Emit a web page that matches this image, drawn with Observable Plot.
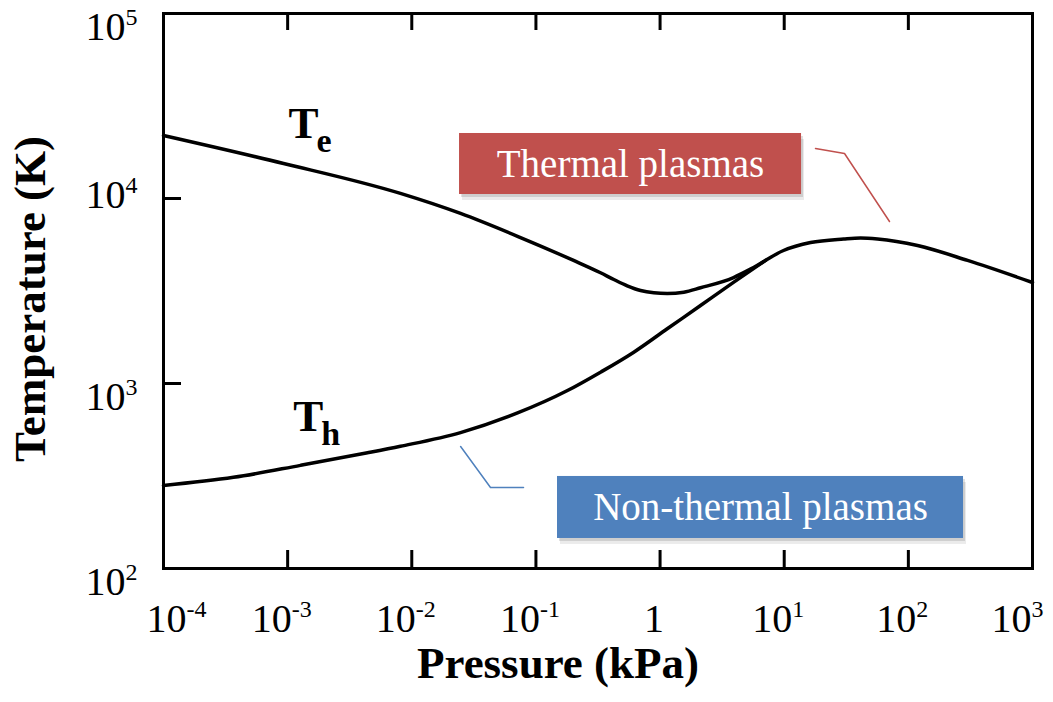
<!DOCTYPE html>
<html><head><meta charset="utf-8">
<script src="https://cdn.jsdelivr.net/npm/d3@7"></script>
<script src="https://cdn.jsdelivr.net/npm/@observablehq/plot@0.6"></script>
<style>body{margin:0;background:#fff;}</style>
</head><body><div id="chart"></div>
<script>
// Electron temperature Te (K) vs pressure (kPa)
const teP = [1e-4, 9.27e-4, 8.1e-3, 0.0247, 0.0751, 0.201, 0.3313, 0.424, 0.5437, 0.696, 0.8903, 1.142, 1.553, 2.118, 3.91, 5.66, 9.87, 16.3, 30.1, 41.18, 56.5, 118.6, 300, 1000];
const teT = [21900, 15460, 10650, 8300, 6150, 4625, 3967, 3650, 3375, 3182, 3093, 3066, 3115, 3291, 3740, 4235, 5235, 5780, 6041, 6116, 6041, 5570, 4625, 3515];
// Heavy-particle temperature Th (K) vs pressure (kPa), merging with Te
const thP = [1e-4, 3.66e-4, 1.27e-3, 4.4e-3, 8.1e-3, 0.0247, 0.0711, 0.1795, 0.3313, 0.6144, 1.142, 2.118, 3.927, 7.07];
const thT = [281, 311, 361, 422, 458, 543, 693, 916, 1151, 1477, 1976, 2640, 3529, 4625];

// Axis ticks ("^" marks a superscript exponent)
const xTickValues = [1e-4, 1e-3, 1e-2, 1e-1, 1, 1e1, 1e2, 1e3];
const xTickLabels = ["10^-4", "10^-3", "10^-2", "10^-1", "1", "10^1", "10^2", "10^3"];
const yTickValues = [1e2, 1e3, 1e4, 1e5];
const yTickLabels = ["10^2", "10^3", "10^4", "10^5"];
const xInnerTicks = [1e-3, 1e-2, 1e-1, 1, 1e1, 1e2];
const yInnerTicks = [1e3, 1e4];

// Annotation boxes (data coordinates)
const boxLabels = ["Thermal plasmas", "Non-thermal plasmas"];
const boxColors = ["#C0504D", "#4F81BD"];
const boxP1 = [0.02424, 0.1492];
const boxP2 = [13.79, 278.2];
const boxT1 = [10510, 145.3];
const boxT2 = [22460, 314.4];
const boxTextP = [0.5779, 6.445];
const boxTextT = [15270, 213.6];

// Leader lines
const redLeaderP = [17.87, 30.6, 70.5];
const redLeaderT = [18630, 17510, 7510];
const blueLeaderP = [0.02474, 0.04306, 0.07943];
const blueLeaderT = [456.5, 274.1, 274.1];

// Curve labels
const curveLabelMain = ["T", "T"];
const curveLabelSub = ["e", "h"];
const curveLabelP = [1.016e-3, 1.11e-3];
const curveLabelT = [25400, 664];

const te = teP.map((p, i) => ({p, t: teT[i]}));
const th = thP.map((p, i) => ({p, t: thT[i]}));
const boxes = boxLabels.map((label, i) => ({label, fill: boxColors[i], p1: boxP1[i], p2: boxP2[i], t1: boxT1[i], t2: boxT2[i], tp: boxTextP[i], tt: boxTextT[i]}));
const redLeader = redLeaderP.map((p, i) => ({p, t: redLeaderT[i]}));
const blueLeader = blueLeaderP.map((p, i) => ({p, t: blueLeaderT[i]}));
const curveLabels = curveLabelMain.map((m, i) => ({m, s: curveLabelSub[i], p: curveLabelP[i], t: curveLabelT[i]}));

const xFmt = d => xTickLabels[xTickValues.indexOf(d)];
const yFmt = d => yTickLabels[yTickValues.indexOf(d)];

const W = 1053, H = 702, mL = 163, mR = 21, mT = 13, mB = 134;
const plotW = W - mL - mR, plotH = H - mT - mB;
const font = "'Liberation Serif', 'DejaVu Serif', serif";

const chart = Plot.plot({
  width: W, height: H,
  marginLeft: mL, marginRight: mR, marginTop: mT, marginBottom: mB,
  style: {fontFamily: font, background: "white", color: "black"},
  x: {type: "log", domain: [1e-4, 1e3], axis: null},
  y: {type: "log", domain: [1e2, 1e5], axis: null},
  marks: [
    // inner tick marks
    Plot.tickX(xInnerTicks, {x: d => d, insetTop: plotH - 18, stroke: "black", strokeWidth: 3}),
    Plot.tickX(xInnerTicks, {x: d => d, insetBottom: plotH - 17, stroke: "black", strokeWidth: 3}),
    Plot.tickY(yInnerTicks, {y: d => d, insetRight: plotW - 18, stroke: "black", strokeWidth: 3}),
    Plot.frame({stroke: "black", strokeWidth: 3}),
    // tick labels
    Plot.axisX([1e-4], {anchor: "bottom", tickSize: 0, tickPadding: 35, tickFormat: xFmt, fontSize: 40, dx: 13, label: null}),
    Plot.axisX(xTickValues.slice(1, 7), {anchor: "bottom", tickSize: 0, tickPadding: 35, tickFormat: xFmt, fontSize: 40, dx: -6, label: null}),
    Plot.axisX([1e3], {anchor: "bottom", tickSize: 0, tickPadding: 35, tickFormat: xFmt, fontSize: 40, dx: -15, label: null}),
    Plot.axisY([1e2, 1e3, 1e5], {anchor: "left", tickSize: 0, tickPadding: 26, tickFormat: yFmt, fontSize: 40, dy: 14, label: null}),
    Plot.axisY([1e4], {anchor: "left", tickSize: 0, tickPadding: 26, tickFormat: yFmt, fontSize: 40, dy: -3, label: null}),
    // axis titles
    Plot.text(["Pressure (kPa)"], {frameAnchor: "bottom", text: d => d, dx: -40, dy: 109, fontSize: 45, fontWeight: "bold", fill: "black"}),
    Plot.text(["Temperature (K)"], {frameAnchor: "left", text: d => d, textAnchor: "middle", rotate: -90, dx: -133, dy: 8, fontSize: 45, fontWeight: "bold", fill: "black"}),
    // curves
    Plot.line(te, {x: "p", y: "t", stroke: "black", strokeWidth: 3.5, curve: "monotone-x"}),
    Plot.line(th, {x: "p", y: "t", stroke: "black", strokeWidth: 3.5, curve: "monotone-x"}),
    // curve labels
    Plot.text(curveLabels, {x: "p", y: "t", text: "m", textAnchor: "start", fontSize: 45, fontWeight: "bold", fill: "black"}),
    Plot.text(curveLabels, {x: "p", y: "t", text: "s", textAnchor: "start", fontSize: 34, fontWeight: "bold", fill: "black", dx: 28, dy: 18}),
    // leader lines
    Plot.line(redLeader, {x: "p", y: "t", stroke: "#C0504D", strokeWidth: 1.5}),
    Plot.line(blueLeader, {x: "p", y: "t", stroke: "#4F81BD", strokeWidth: 1.5}),
    // box shadows
    Plot.rect(boxes, {x1: "p1", x2: "p2", y1: "t1", y2: "t2", fill: "#000", fillOpacity: 0.08, dx: 3, dy: 6}),
    Plot.rect(boxes, {x1: "p1", x2: "p2", y1: "t1", y2: "t2", fill: "#000", fillOpacity: 0.12, dx: 2, dy: 3}),
    // boxes
    Plot.rect(boxes, {x1: "p1", x2: "p2", y1: "t1", y2: "t2", fill: "fill"}),
    Plot.text(boxes, {x: "tp", y: "tt", text: "label", fill: "white", fontSize: 39})
  ]
});

// Turn "10^e" tick labels into a base with a superscript tspan
chart.querySelectorAll("text").forEach(el => {
  const s = el.textContent;
  const k = s.indexOf("^");
  if (k < 0) return;
  el.textContent = s.slice(0, k);
  const sup = document.createElementNS("http://www.w3.org/2000/svg", "tspan");
  sup.setAttribute("dy", "-15");
  sup.setAttribute("font-size", "24");
  sup.textContent = s.slice(k + 1);
  el.appendChild(sup);
});

document.getElementById("chart").appendChild(chart);
</script>
</body></html>
